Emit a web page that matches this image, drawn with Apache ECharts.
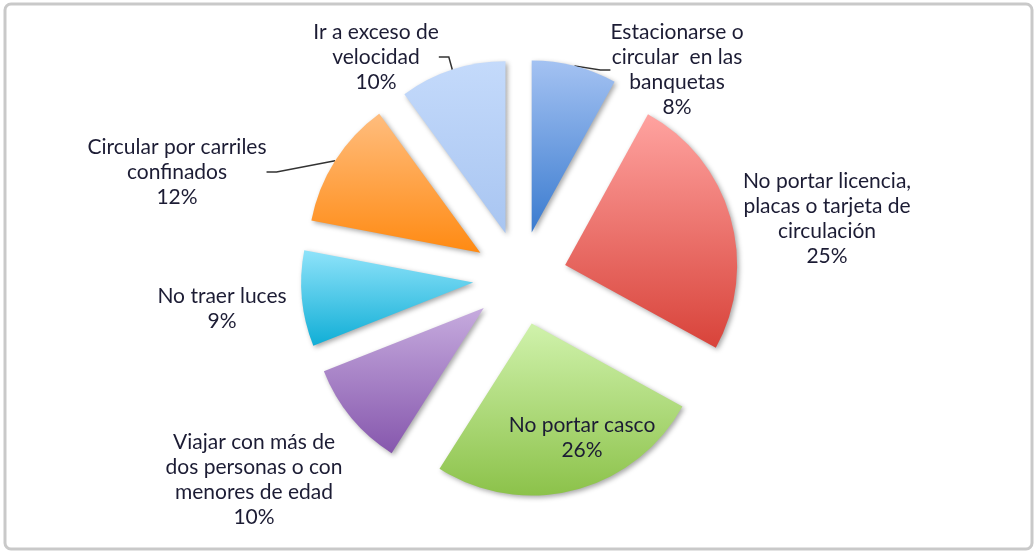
<!DOCTYPE html>
<html>
<head>
<meta charset="utf-8">
<script src="https://cdn.jsdelivr.net/npm/echarts@6/dist/echarts.min.js"></script>
<style>
  html, body { margin: 0; padding: 0; background: #fff; }
  #main { width: 1035px; height: 551px; }
</style>
</head>
<body>
<div id="main"></div>
<script>
// categories, clockwise from 12 o'clock
var categories = [
  'Estacionarse o\ncircular  en las\nbanquetas',
  'No portar licencia,\nplacas o tarjeta de\ncirculación',
  'No portar casco',
  'Viajar con más de\ndos personas o con\nmenores de edad',
  'No traer luces',
  'Circular por carriles\nconfinados',
  'Ir a exceso de\nvelocidad'
];
var percentValues = [8, 25, 26, 10, 9, 12, 10];

// gradient top / bottom per slice
var sliceColors = [
  ['#a4c2f2', '#3a7bcf'],
  ['#ffa3a0', '#d8433a'],
  ['#d0f2ac', '#8cc24a'],
  ['#c6abde', '#8657ad'],
  ['#8fe3fa', '#10aed6'],
  ['#ffbd7e', '#ff8a12'],
  ['#c4dafb', '#a8c5f1']
];
// centre of each label block
var labelPos = [
  [677, 70], [827, 219], [582, 438], [254, 480], [222, 309], [177, 172], [376, 57]
];
var showLine = [true, false, false, false, false, true, true];

var pieCenter = [520, 278];
var pieRadius = 172;
var explode = 47;

var chart = echarts.init(document.getElementById('main'));

var sliceData = categories.map(function (name, i) {
  return {
    name: name,
    value: percentValues[i],
    selected: true,
    itemStyle: {
      color: new echarts.graphic.LinearGradient(0, 0, 0, 1, [
        { offset: 0, color: sliceColors[i][0] },
        { offset: 1, color: sliceColors[i][1] }
      ])
    }
  };
});

// invisible ring at the exploded edge, only carries the labels
var labelData = categories.map(function (name, i) {
  return {
    name: name,
    value: percentValues[i],
    labelLine: { show: showLine[i] }
  };
});

var option = {
  backgroundColor: '#fff',
  animation: false,
  graphic: [{
    type: 'rect',
    shape: { x: 5, y: 4, width: 1027, height: 545, r: 6 },
    style: { fill: 'none', stroke: '#c9c9c9', lineWidth: 3 },
    silent: true
  }],
  series: [{
    type: 'pie',
    center: pieCenter,
    radius: pieRadius,
    startAngle: 90,
    clockwise: true,
    selectedMode: 'multiple',
    selectedOffset: explode,
    data: sliceData,
    label: { show: false },
    labelLine: { show: false },
    itemStyle: {
      shadowBlur: 5,
      shadowColor: 'rgba(0,0,0,0.35)',
      shadowOffsetX: 2,
      shadowOffsetY: 2
    },
    emphasis: { disabled: true }
  }, {
    type: 'pie',
    center: pieCenter,
    radius: pieRadius + explode,
    startAngle: 90,
    clockwise: true,
    silent: true,
    avoidLabelOverlap: false,
    data: labelData,
    itemStyle: { color: 'rgba(0,0,0,0)' },
    emphasis: { disabled: true },
    label: {
      show: true,
      position: 'outside',
      fontFamily: 'Lato',
      fontSize: 21,
      lineHeight: 25,
      color: '#1c1c34',
      formatter: function (p) {
        return p.name + '\n' + p.value + '%';
      }
    },
    labelLine: {
      show: true,
      length: 10,
      length2: 10,
      lineStyle: { color: '#333', width: 1.5 }
    },
    labelLayout: function (params) {
      var p = labelPos[params.dataIndex];
      return { x: p[0], y: p[1], align: 'center', verticalAlign: 'middle' };
    }
  }]
};
chart.setOption(option);
</script>
</body>
</html>
